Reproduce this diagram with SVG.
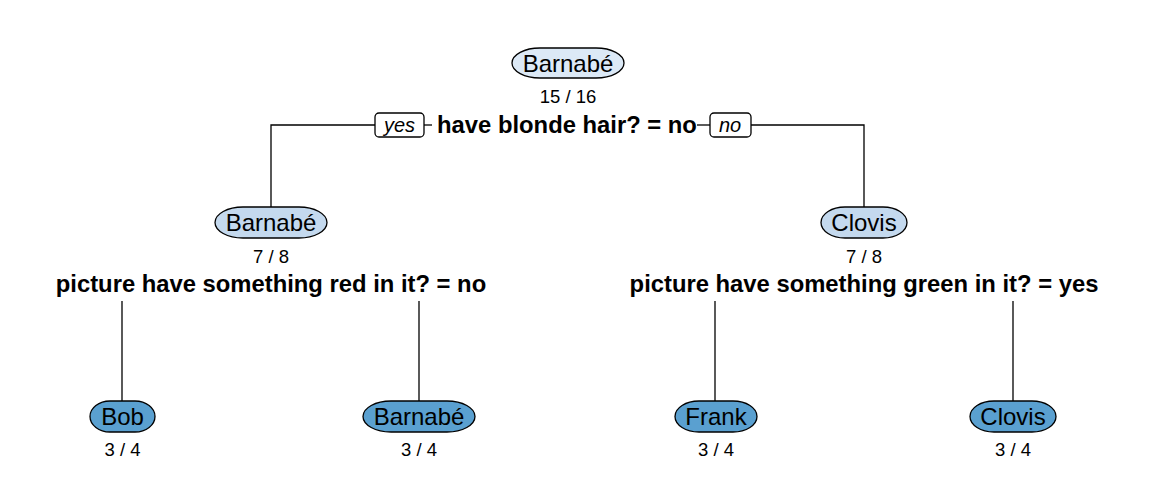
<svg xmlns="http://www.w3.org/2000/svg" width="1152" height="504" viewBox="0 0 1152 504">
<style>
.node rect{stroke:#000;stroke-width:1.3}
.l0{fill:#DCE9F6}
.l1{fill:#C4D9EE}
.l2{fill:#5AA0D0}
.lbl{font-family:"Liberation Sans",Arial,sans-serif;font-size:24px;fill:#000;text-anchor:middle}
.cnt{font-family:"Liberation Sans",Arial,sans-serif;font-size:18.5px;fill:#000;text-anchor:middle}
.split{font-family:"Liberation Sans",Arial,sans-serif;font-size:23.8px;font-weight:bold;fill:#000;text-anchor:middle}
.yn{font-family:"Liberation Sans",Arial,sans-serif;font-size:20px;font-style:italic;fill:#000;text-anchor:middle}
.conn line,.conn polyline{stroke:#000;stroke-width:1.3;fill:none}
.tag{fill:#fff;stroke:#000;stroke-width:1.3}
</style>
<rect width="1152" height="504" fill="#fff"/>
<g id="connectors" class="conn">
<polyline points="375,125 271,125 271,207"/>
<line x1="424" y1="125" x2="432" y2="125"/>
<line x1="697" y1="125" x2="710" y2="125"/>
<polyline points="751,125 864,125 864,207"/>
<line x1="122" y1="301" x2="122" y2="401"/>
<line x1="419" y1="301" x2="419" y2="401"/>
<line x1="715" y1="301" x2="715" y2="401"/>
<line x1="1013" y1="301" x2="1013" y2="401"/>
<rect class="tag" x="375" y="113" width="49" height="24" rx="4"/>
<text class="yn" x="399.5" y="132">yes</text>
<rect class="tag" x="710" y="113" width="41" height="24" rx="4"/>
<text class="yn" x="730" y="132">no</text>
</g>
<g id="n1" class="node">
<rect class="l0" x="512" y="48" width="112" height="30" rx="28" ry="15"/>
<text class="lbl" x="568" y="71.5">Barnabé</text>
<text class="cnt" x="568" y="103">15 / 16</text>
<text class="split" x="567" y="133">have blonde hair? = no</text>
</g>
<g id="n2" class="node">
<rect class="l1" x="215" y="207" width="112" height="31" rx="28" ry="15.5"/>
<text class="lbl" x="271" y="231">Barnabé</text>
<text class="cnt" x="271" y="263">7 / 8</text>
<text class="split" x="271" y="292">picture have something red in it? = no</text>
</g>
<g id="n3" class="node">
<rect class="l1" x="821" y="207" width="86" height="31" rx="24" ry="15.5"/>
<text class="lbl" x="864" y="231">Clovis</text>
<text class="cnt" x="864" y="263">7 / 8</text>
<text class="split" x="864" y="292">picture have something green in it? = yes</text>
</g>
<g id="n4" class="node">
<rect class="l2" x="90" y="401" width="65" height="31" rx="20" ry="15.5"/>
<text class="lbl" x="122.5" y="425">Bob</text>
<text class="cnt" x="122.5" y="456">3 / 4</text>
</g>
<g id="n5" class="node">
<rect class="l2" x="363" y="401" width="112" height="31" rx="28" ry="15.5"/>
<text class="lbl" x="419" y="425">Barnabé</text>
<text class="cnt" x="419" y="456">3 / 4</text>
</g>
<g id="n6" class="node">
<rect class="l2" x="675" y="401" width="82" height="31" rx="24" ry="15.5"/>
<text class="lbl" x="716" y="425">Frank</text>
<text class="cnt" x="716" y="456">3 / 4</text>
</g>
<g id="n7" class="node">
<rect class="l2" x="970" y="401" width="86" height="31" rx="24" ry="15.5"/>
<text class="lbl" x="1013" y="425">Clovis</text>
<text class="cnt" x="1013" y="456">3 / 4</text>
</g>
</svg>
